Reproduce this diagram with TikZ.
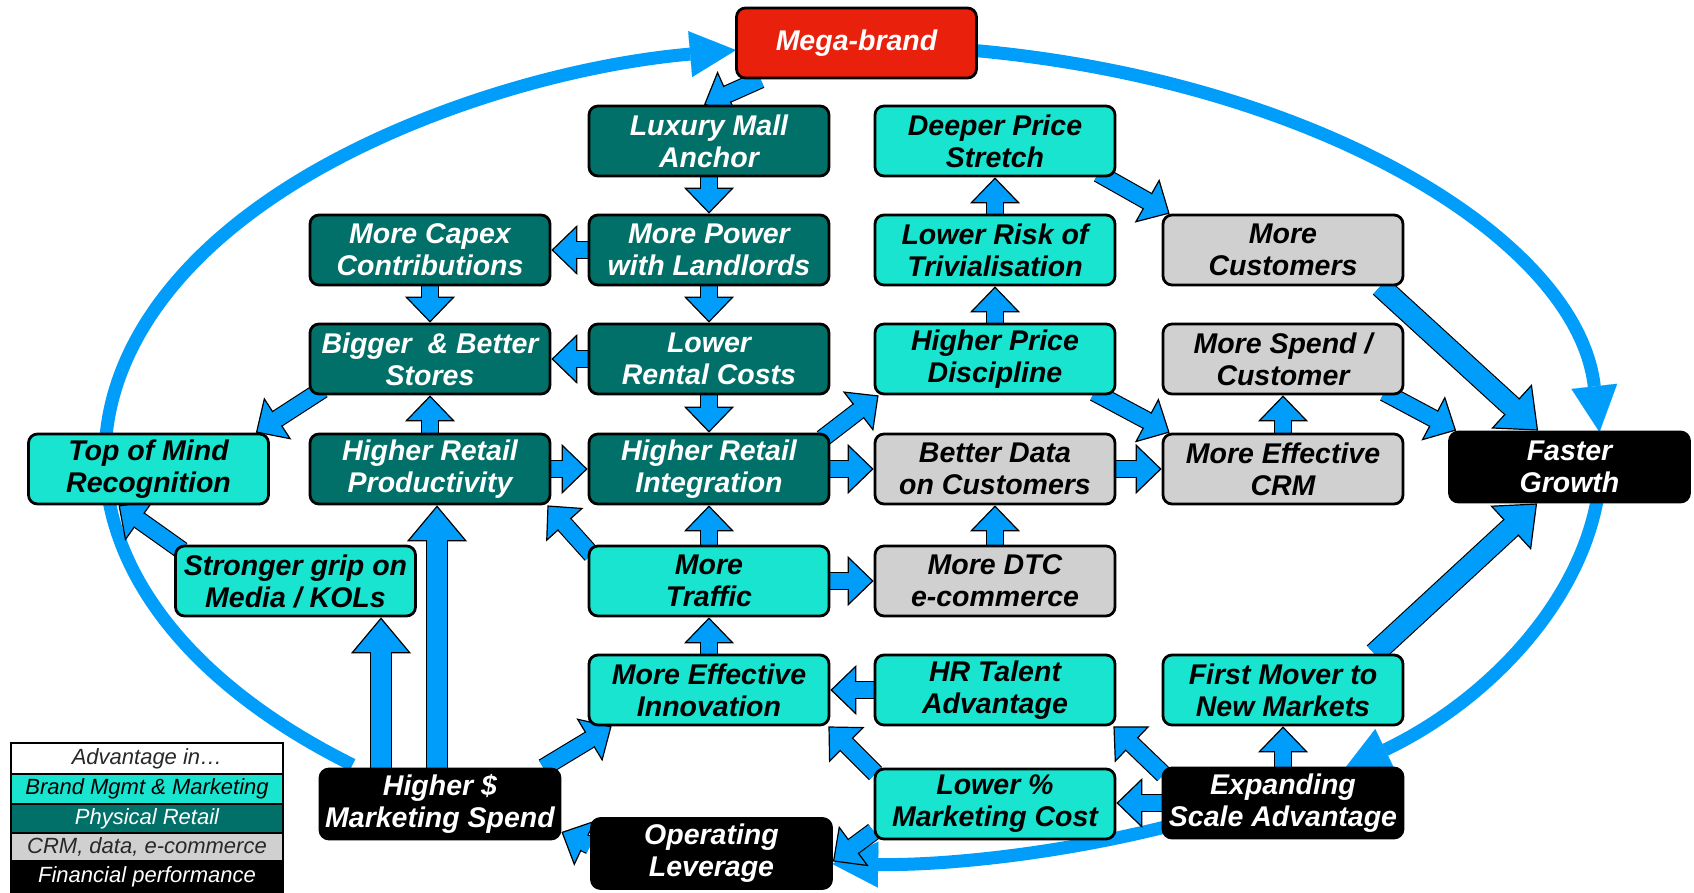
\documentclass[tikz,border=0pt]{standalone}
\usepackage{fontspec}
\setmainfont{Liberation Sans}
\usetikzlibrary{arrows.meta,calc}
\definecolor{ablue}{RGB}{0,158,250}
\definecolor{bmc}{RGB}{24,228,208}
\definecolor{prc}{RGB}{0,112,104}
\definecolor{crmc}{RGB}{208,208,208}
\definecolor{megac}{RGB}{232,32,12}
\definecolor{dgray}{RGB}{40,40,40}
\pgfdeclarelayer{bg}
\pgfsetlayers{bg,main}
\begin{document}
\begin{tikzpicture}[x=1pt,y=1pt,
  box/.style={draw=black, line width=2.8pt, rounded corners=9pt, minimum width=240pt,
    minimum height=70pt, inner sep=0pt, align=center,
    font=\fontsize{28.5}{32}\selectfont\bfseries\itshape},
  bm/.style={box, fill=bmc, text=black},
  pr/.style={box, fill=prc, text=white},
  cr/.style={box, fill=crmc, text=black},
  fin/.style={box, fill=black, text=white},
  mg/.style={box, fill=megac, text=white},
  leg/.style={draw=black, line width=1.5pt, minimum width=272pt, inner sep=0pt,
    font=\fontsize{22}{24}\selectfont\itshape},
  blk/.style={draw=ablue, line width=16pt,
    -{Triangle[width=50pt,length=26pt,line width=1.2pt,color=black,fill=ablue]},
    preaction={draw=black, line width=18.4pt, arrows=-, shorten >=24pt},
    postaction={draw=ablue, line width=15.6pt, arrows=-, shorten >=23.5pt}},
  blkL/.style={draw=ablue, line width=20pt,
    -{Triangle[width=60pt,length=36pt,line width=1.2pt,color=black,fill=ablue]},
    preaction={draw=black, line width=22.4pt, arrows=-, shorten >=34pt},
    postaction={draw=ablue, line width=19.6pt, arrows=-, shorten >=33.5pt}},
  ell/.style={draw=ablue, line width=13pt,
    -{Triangle[width=46pt,length=46pt,line width=0.1pt,color=ablue,fill=ablue]}}
]
\useasboundingbox (0,0) rectangle (1694,-893);

% nodes
\node[mg] (mega) at (856.5,-43) {Mega-brand};
\node[pr] (lux) at (709,-141) {Luxury Mall\\Anchor};
\node[bm] (deeper) at (995,-141) {Deeper Price\\Stretch};
\node[pr] (capex) at (430,-250) {More Capex\\Contributions};
\node[pr] (power) at (709,-250) {More Power\\with Landlords};
\node[bm] (risk) at (995,-250) {Lower Risk of\\Trivialisation};
\node[cr] (morecust) at (1283,-250) {More\\Customers};
\node[pr] (bigger) at (430,-359) {Bigger\ \ \& Better\\Stores};
\node[pr] (lower) at (709,-359) {Lower\\Rental Costs};
\node[bm] (price) at (995,-359) {Higher Price\\Discipline};
\node[cr] (spend) at (1283,-359) {More Spend /\\Customer};
\node[bm] (topmind) at (148.5,-469) {Top of Mind\\Recognition};
\node[pr] (hrp) at (430,-469) {Higher Retail\\Productivity};
\node[pr] (hri) at (709,-469) {Higher Retail\\Integration};
\node[cr] (better) at (995,-469) {Better Data\\on Customers};
\node[cr] (crm) at (1283,-469) {More Effective\\CRM};
\node[fin] (faster) at (1569.5,-467) {Faster\\Growth};
\node[bm] (grip) at (295.5,-581) {Stronger grip on\\Media / KOLs};
\node[bm] (traffic) at (709,-581) {More\\Traffic};
\node[cr] (dtc) at (995,-581) {More DTC\\e-commerce};
\node[bm] (innov) at (709,-690) {More Effective\\Innovation};
\node[bm] (hr) at (995,-690) {HR Talent\\Advantage};
\node[bm] (first) at (1283,-690) {First Mover to\\New Markets};
\node[fin] (higher) at (440,-804) {Higher \$\\Marketing Spend};
\node[bm] (lowpct) at (995,-804) {Lower \%\\Marketing Cost};
\node[fin] (expanding) at (1283,-803) {Expanding\\Scale Advantage};
\node[fin] (oplev) at (711.5,-853.5) {Operating\\Leverage};

% legend
\node[leg, fill=white, text=dgray, minimum height=31pt] (lg1) at (147,-758.5) {Advantage in…};
\node[leg, fill=bmc, text=black, minimum height=30pt] (lg2) at (147,-789) {Brand Mgmt \& Marketing};
\node[leg, fill=prc, text=white, minimum height=29pt] (lg3) at (147,-818.5) {Physical Retail};
\node[leg, fill=crmc, text=dgray, minimum height=28pt] (lg4) at (147,-847) {CRM, data, e-commerce};
\node[leg, fill=black, text=white, minimum height=31pt] (lg5) at (147,-876.5) {Financial performance};

\begin{pgfonlayer}{bg}
% outer loop
\coordinate (ec) at (853,-458);
\coordinate (e1) at ($(ec)+(228:748pt and 413pt)$);
\coordinate (e2) at ($(ec)+(81:748pt and 413pt)$);
\coordinate (e3) at ($(ec)+(-5:748pt and 413pt)$);
\coordinate (e4) at ($(ec)+(-64:748pt and 406pt)$);
\draw[ell] (e1) arc[start angle=228,end angle=99,x radius=748pt,y radius=413pt];
\draw[ell] (e2) arc[start angle=81,end angle=3.6,x radius=748pt,y radius=413pt];
\draw[ell] (e3) arc[start angle=-5,end angle=-49,x radius=748pt,y radius=413pt];
\draw[ell] (e4) arc[start angle=-64,end angle=-91.6,x radius=748pt,y radius=406pt];

% block arrows
\draw[blk] ([xshift=-96pt]mega.south) -- ([xshift=-5pt]lux.north);
\draw[blk] (lux.south) -- (power.north);
\draw[blk] (power.west) -- (capex.east);
\draw[blk] (power.south) -- (lower.north);
\draw[blk] (capex.south) -- (bigger.north);
\draw[blk] (lower.west) -- (bigger.east);
\draw[blk] (lower.south) -- (hri.north);
\draw[blk] ([xshift=14pt,yshift=6pt]bigger.south west) -- ([xshift=-14pt]topmind.north east);
\draw[blk] (hrp.north) -- (bigger.south);
\draw[blk] (hrp.east) -- (hri.west);
\draw[blk] ([xshift=-8pt,yshift=-6pt]hri.north east) -- ([xshift=5pt]price.south west);
\draw[blk] (hri.east) -- (better.west);
\draw[blk] (better.east) -- (crm.west);
\draw[blk] (price.north) -- (risk.south);
\draw[blk] (risk.north) -- (deeper.south);
\draw[blk] ([xshift=-18pt,yshift=4pt]deeper.south east) -- ([xshift=8pt]morecust.north west);
\draw[blk] ([xshift=-22pt,yshift=3pt]price.south east) -- ([xshift=8pt]crm.north west);
\draw[blk] (crm.north) -- (spend.south);
\draw[blk] ([xshift=-20pt,yshift=3pt]spend.south east) -- ([xshift=8pt]faster.north west);
\draw[blkL] ([xshift=-24pt]morecust.south east) -- ([xshift=90pt]faster.north west);
\draw[blk] ([xshift=8pt,yshift=-6pt]grip.north west) -- ([xshift=-30pt]topmind.south);
\draw[blkL] ([xshift=-59pt]higher.north) -- ([xshift=-59pt]higher.north |- grip.south);
\draw[blkL] ([xshift=-3pt]higher.north) -- ([xshift=-3pt]higher.north |- hrp.south);
\draw[blk] ([xshift=4pt,yshift=-10pt]traffic.north west) -- ([xshift=-4pt]hrp.south east);
\draw[blk] (traffic.north) -- (hri.south);
\draw[blk] (traffic.east) -- (dtc.west);
\draw[blk] (dtc.north) -- (better.south);
\draw[blk] (innov.north) -- (traffic.south);
\draw[blk] (hr.west) -- (innov.east);
\draw[blk] ([xshift=-18pt]higher.north east) -- ([xshift=24pt]innov.south west);
\draw[blk] ([xshift=2pt,yshift=-6pt]lowpct.north west) -- ([xshift=-2pt]innov.south east);
\draw[blk] ([yshift=9pt]lowpct.south west) -- ([yshift=-8pt]oplev.east);
\draw[blk] ([yshift=8pt]oplev.west) -- ([yshift=-28pt]higher.east);
\draw[blk] (expanding.west) -- (expanding.west -| lowpct.east);
\draw[blk] ([xshift=2pt,yshift=-8pt]expanding.north west) -- ([xshift=-3pt]hr.south east);
\draw[blk] (expanding.north) -- (first.south);
\draw[blkL] ([xshift=-30pt]first.north east) -- ([xshift=89pt]faster.south west);
\end{pgfonlayer}
\end{tikzpicture}
\end{document}
